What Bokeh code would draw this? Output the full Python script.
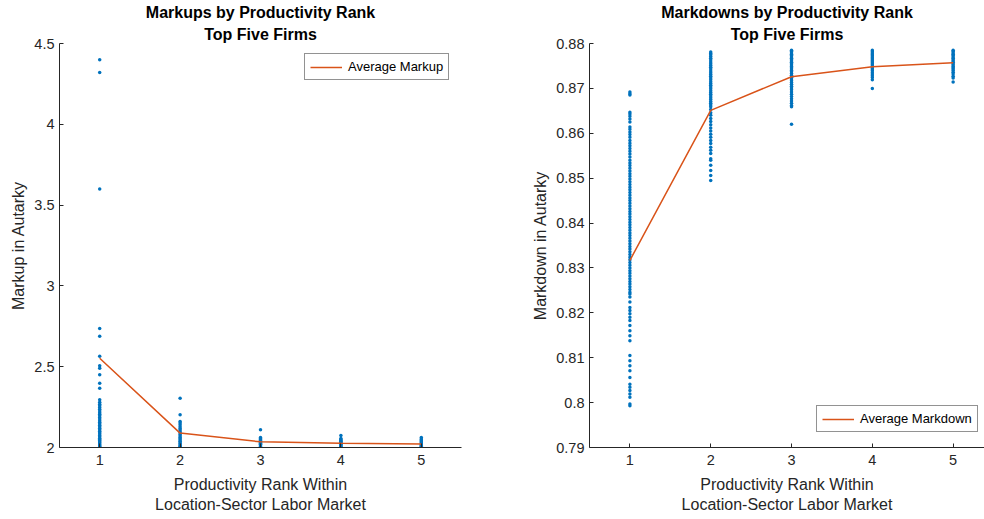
from bokeh.plotting import figure
from bokeh.layouts import row
from bokeh.models import FixedTicker, Legend, LegendItem, Range1d, Title
from bokeh.embed import file_html
from bokeh.resources import INLINE

ranks = [1, 2, 3, 4, 5]
rank_labels = {1: "1", 2: "2", 3: "3", 4: "4", 5: "5"}

markup_avg = [2.552, 2.089, 2.035, 2.026, 2.022]
markdown_avg = [0.8317, 0.8651, 0.8726, 0.8748, 0.8757]

markup_r1 = [4.40, 4.32, 3.60, 2.737, 2.688, 2.564, 2.506, 2.490, 2.450, 2.397, 2.366,
             2.296, 2.280, 2.268, 2.258, 2.247, 2.236, 2.226, 2.215, 2.205, 2.196, 2.186,
             2.176, 2.166, 2.156, 2.147, 2.138, 2.128, 2.119, 2.110, 2.101, 2.092, 2.083,
             2.074, 2.066, 2.058, 2.050, 2.043, 2.036, 2.029, 2.022, 2.016, 2.010, 2.005, 2.001]
markup_r2 = [2.304, 2.203, 2.161, 2.151, 2.141, 2.128, 2.118, 2.108, 2.098, 2.089, 2.080,
             2.071, 2.062, 2.054, 2.046, 2.038, 2.030, 2.023, 2.016, 2.010, 2.005, 2.001]
markup_r3 = [2.110, 2.062, 2.056, 2.050, 2.044, 2.038, 2.032, 2.026, 2.020, 2.015, 2.010,
             2.005, 2.001]
markup_r4 = [2.074, 2.056, 2.050, 2.044, 2.038, 2.032, 2.026, 2.020, 2.015, 2.010, 2.005, 2.001]
markup_r5 = [2.062, 2.052, 2.046, 2.040, 2.034, 2.028, 2.022, 2.016, 2.011, 2.006, 2.001]

markdown_r1 = [0.8692, 0.8688, 0.8685, 0.8647, 0.8643, 0.8638, 0.8632, 0.8625, 0.8614, 0.8609,
               0.8603, 0.8597, 0.8591, 0.8584, 0.8578, 0.8572, 0.8566, 0.8560, 0.8554, 0.8547,
               0.8540, 0.8534, 0.8528, 0.8522, 0.8516, 0.8510, 0.8504, 0.8498, 0.8492, 0.8486,
               0.8480, 0.8474, 0.8468, 0.8462, 0.8456, 0.8450, 0.8444, 0.8438, 0.8432, 0.8426,
               0.8420, 0.8414, 0.8408, 0.8402, 0.8396, 0.8390, 0.8384, 0.8378, 0.8372, 0.8366,
               0.8360, 0.8354, 0.8348, 0.8342, 0.8336, 0.8330, 0.8324, 0.8318, 0.8312, 0.8306,
               0.8300, 0.8294, 0.8288, 0.8282, 0.8276, 0.8270, 0.8264, 0.8258, 0.8252, 0.8246,
               0.8242, 0.8235, 0.8224, 0.8212, 0.8205, 0.8198, 0.8190, 0.8183, 0.8172, 0.8160,
               0.8149, 0.8138, 0.8105, 0.8093, 0.8082, 0.8071, 0.8056, 0.8041, 0.8034, 0.8027,
               0.8019, 0.8012, 0.7997, 0.7993]
markdown_r2 = [0.8781, 0.8778, 0.8775, 0.8771, 0.8767, 0.8763, 0.8759, 0.8755, 0.8751, 0.8747,
               0.8743, 0.8739, 0.8735, 0.8731, 0.8727, 0.8723, 0.8719, 0.8715, 0.8711, 0.8707,
               0.8703, 0.8699, 0.8695, 0.8691, 0.8687, 0.8683, 0.8679, 0.8675, 0.8671, 0.8667,
               0.8663, 0.8659, 0.8653, 0.8646, 0.8640, 0.8633, 0.8626, 0.8619, 0.8612, 0.8605,
               0.8598, 0.8591, 0.8584, 0.8577, 0.8569, 0.8562, 0.8555, 0.8543, 0.8540, 0.8529,
               0.8517, 0.8506, 0.8495]
markdown_r3 = [0.8785, 0.8782, 0.8779, 0.8776, 0.8773, 0.8770, 0.8767, 0.8764, 0.8761, 0.8758,
               0.8755, 0.8752, 0.8749, 0.8746, 0.8743, 0.8740, 0.8737, 0.8733, 0.8729, 0.8725,
               0.8721, 0.8717, 0.8713, 0.8709, 0.8705, 0.8701, 0.8697, 0.8692, 0.8687, 0.8682,
               0.8677, 0.8672, 0.8667, 0.8662, 0.8659, 0.8620]
markdown_r4 = [0.8785, 0.8782, 0.8779, 0.8776, 0.8773, 0.8770, 0.8767, 0.8764, 0.8761, 0.8758,
               0.8755, 0.8752, 0.8749, 0.8746, 0.8743, 0.8740, 0.8736, 0.8732, 0.8728, 0.8724,
               0.8719, 0.8700]
markdown_r5 = [0.8785, 0.8782, 0.8779, 0.8776, 0.8773, 0.8770, 0.8767, 0.8764, 0.8761, 0.8758,
               0.8755, 0.8752, 0.8749, 0.8746, 0.8743, 0.8740, 0.8736, 0.8732, 0.8727, 0.8723,
               0.8714]

markup_ticks = [2, 2.5, 3, 3.5, 4, 4.5]
markup_tick_labels = ["2", "2.5", "3", "3.5", "4", "4.5"]
markdown_ticks = [0.79, 0.80, 0.81, 0.82, 0.83, 0.84, 0.85, 0.86, 0.87, 0.88]
markdown_tick_labels = ["0.79", "0.8", "0.81", "0.82", "0.83", "0.84", "0.85", "0.86", "0.87", "0.88"]

xlabel = "Productivity Rank Within\nLocation-Sector Labor Market"
title_sub = "Top Five Firms"

DOT = "#0072BD"
LINE = "#D95319"
AX = "#262626"
FONT = "Liberation Sans"
H = 519


def style(p, yticks, ylabels, title, ylabel, title_offset=0):
    p.outline_line_color = None
    p.grid.visible = False
    p.background_fill_color = "white"
    p.border_fill_color = "white"
    sub = Title(text=title_sub, align="center", text_font=FONT, text_font_size="16px",
                text_font_style="bold", text_color="#000000", standoff=2, offset=title_offset)
    main = Title(text=title, align="center", text_font=FONT, text_font_size="16px",
                 text_font_style="bold", text_color="#000000", standoff=3, offset=title_offset)
    p.add_layout(sub, "above")
    p.add_layout(main, "above")
    for ax in (p.xaxis[0], p.yaxis[0]):
        ax.axis_line_color = AX
        ax.axis_line_width = 1
        ax.major_tick_line_color = AX
        ax.major_tick_in = 4
        ax.major_tick_out = 0
        ax.minor_tick_line_color = None
        ax.major_label_text_font = FONT
        ax.major_label_text_font_size = "14.5px"
        ax.major_label_text_color = AX
        ax.axis_label_text_font = FONT
        ax.axis_label_text_font_size = "16px"
        ax.axis_label_text_font_style = "normal"
        ax.axis_label_text_color = AX
    p.xaxis[0].ticker = FixedTicker(ticks=ranks)
    p.xaxis[0].major_label_overrides = rank_labels
    p.xaxis[0].major_label_standoff = 7
    p.xaxis[0].axis_label = xlabel
    p.xaxis[0].axis_label_standoff = 8
    p.xaxis[0].axis_label_text_line_height = 1.19
    p.yaxis[0].ticker = FixedTicker(ticks=yticks)
    p.yaxis[0].major_label_overrides = dict(zip(yticks, ylabels))
    p.yaxis[0].major_label_standoff = 5
    p.yaxis[0].axis_label = ylabel
    p.yaxis[0].axis_label_standoff = 4


def add_legend(p, renderer, label, loc):
    leg = Legend(items=[LegendItem(label=label, renderers=[renderer])], location=loc)
    leg.label_text_font = FONT
    leg.label_text_font_size = "13px"
    leg.label_text_color = "#000000"
    leg.border_line_color = AX
    leg.border_line_width = 1
    leg.background_fill_alpha = 1
    leg.padding = 5
    leg.margin = 0
    leg.spacing = 0
    leg.glyph_width = 32
    leg.glyph_height = 12
    leg.label_height = 12
    leg.label_standoff = 6
    p.add_layout(leg)


p1 = figure(width=520, height=H, output_backend="svg", toolbar_location=None,
            x_range=Range1d(0.5, 5.5), y_range=Range1d(2, 4.5),
            min_border_left=59, min_border_right=59, min_border_top=43, min_border_bottom=72)
style(p1, markup_ticks, markup_tick_labels, "Markups by Productivity Rank", "Markup in Autarky")
for r, vals in zip(ranks, [markup_r1, markup_r2, markup_r3, markup_r4, markup_r5]):
    p1.scatter([r] * len(vals), vals, size=3.5, color=DOT, line_width=0)
l1 = p1.line(ranks, markup_avg, line_color=LINE, line_width=1.5)
add_legend(p1, l1, "Average Markup", (245, 367))

p2 = figure(width=464, height=H, output_backend="svg", toolbar_location=None,
            x_range=Range1d(0.5, 0.5 + (984 - 589.3) / 80.75), y_range=Range1d(0.79, 0.88),
            min_border_left=69, min_border_right=0, min_border_top=43, min_border_bottom=72)
style(p2, markdown_ticks, markdown_tick_labels, "Markdowns by Productivity Rank",
      "Markdown in Autarky", title_offset=4)
for r, vals in zip(ranks, [markdown_r1, markdown_r2, markdown_r3, markdown_r4, markdown_r5]):
    p2.scatter([r] * len(vals), vals, size=3.5, color=DOT, line_width=0)
l2 = p2.line(ranks, markdown_avg, line_color=LINE, line_width=1.5)
add_legend(p2, l2, "Average Markdown", (227, 15))

layout = row(p1, p2)
open("out.html", "w").write(file_html(layout, INLINE))
